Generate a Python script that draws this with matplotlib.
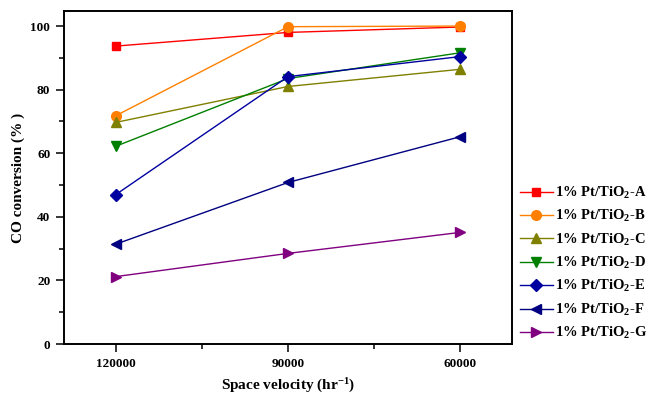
import matplotlib
matplotlib.use("Agg")
import matplotlib.pyplot as plt
from matplotlib.ticker import MultipleLocator

plt.rcParams['font.family'] = ['Liberation Serif', 'DejaVu Serif']
plt.rcParams['font.weight'] = 'bold'
plt.rcParams['mathtext.fontset'] = 'custom'
plt.rcParams['mathtext.rm'] = 'Liberation Serif:bold'
plt.rcParams['mathtext.bf'] = 'Liberation Serif:bold'
plt.rcParams['mathtext.default'] = 'rm'

# data
space_velocity = [120000, 90000, 60000]
conv_A = [93.7, 98.0, 99.7]
conv_B = [71.8, 99.8, 100.0]
conv_C = [69.7, 81.0, 86.4]
conv_D = [62.2, 83.5, 91.6]
conv_E = [47.0, 84.1, 90.4]
conv_F = [31.4, 50.8, 65.2]
conv_G = [21.2, 28.5, 35.1]

series = [
    ("1% Pt/TiO$_2$-A", conv_A, "#FF0000", "s"),
    ("1% Pt/TiO$_2$-B", conv_B, "#FF8000", "o"),
    ("1% Pt/TiO$_2$-C", conv_C, "#808000", "^"),
    ("1% Pt/TiO$_2$-D", conv_D, "#008000", "v"),
    ("1% Pt/TiO$_2$-E", conv_E, "#0000A0", "D"),
    ("1% Pt/TiO$_2$-F", conv_F, "#000080", "<"),
    ("1% Pt/TiO$_2$-G", conv_G, "#800080", ">"),
]

fig = plt.figure(figsize=(6.48, 3.97), dpi=100)
ax = fig.add_axes([0.099, 0.1335, 0.691, 0.8385])

for label, vals, color, marker in series:
    ms = 6 if marker in ("s", "D") else 7
    ax.plot(space_velocity, vals, color=color, marker=marker, markersize=ms,
            linewidth=1.0, label=label)

ax.set_xlim(129000, 51000)
ax.set_ylim(0, 104.7)
ax.set_xticks(space_velocity)
ax.set_xticklabels([str(v) for v in space_velocity])
ax.xaxis.set_minor_locator(MultipleLocator(15000))
ax.yaxis.set_major_locator(MultipleLocator(20))
ax.yaxis.set_minor_locator(MultipleLocator(10))
ax.tick_params(which='major', direction='out', length=6, width=1.1, labelsize=9.5, pad=4)
ax.tick_params(which='minor', direction='out', length=3.5, width=1.1)
for s in ax.spines.values():
    s.set_linewidth(1.4)
for lbl in ax.get_xticklabels() + ax.get_yticklabels():
    lbl.set_fontweight('bold')

ax.set_xlabel("Space velocity (hr$^{-1}$)", fontsize=11, fontweight='bold', labelpad=5)
ax.set_ylabel("CO conversion (% )", fontsize=11, fontweight='bold', labelpad=4)

fig.legend(loc='center left', bbox_to_anchor=(0.802, 0.3375), frameon=False,
           fontsize=10.5, handlelength=2.25, handletextpad=0.15, labelspacing=0.5,
           borderpad=0, borderaxespad=0)

fig.savefig("out.png", dpi=100)
